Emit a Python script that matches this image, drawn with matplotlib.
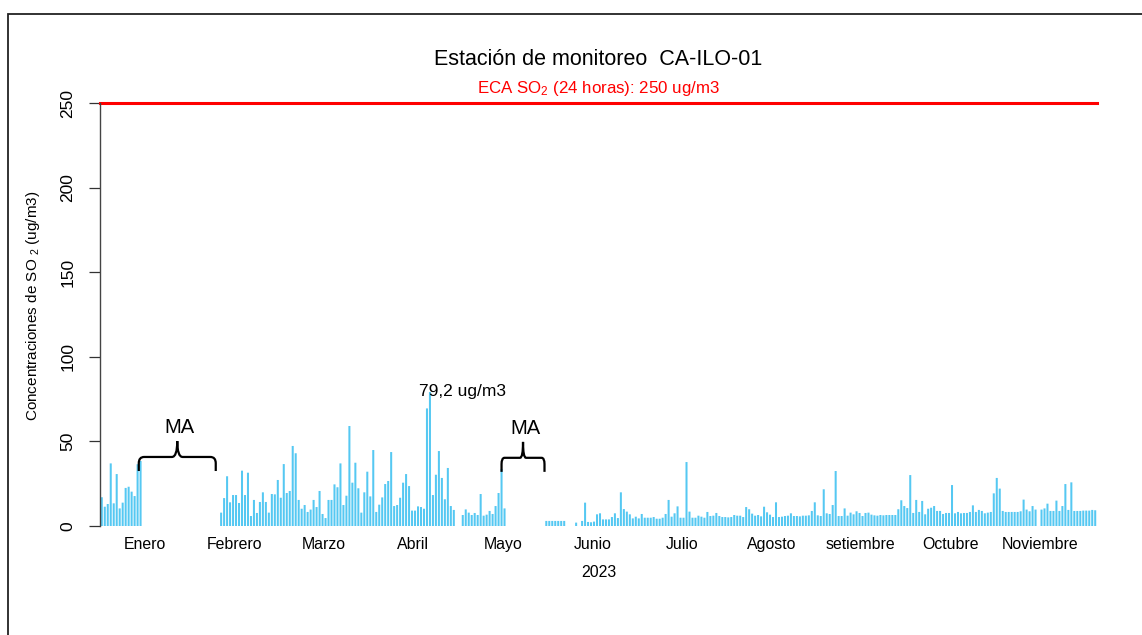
import numpy as np
import matplotlib
matplotlib.use("Agg")
import matplotlib.pyplot as plt
from matplotlib.path import Path
from matplotlib.patches import PathPatch, Rectangle

plt.rcParams["font.family"] = ["Liberation Sans", "DejaVu Sans"]
plt.rcParams["mathtext.fontset"] = "custom"
plt.rcParams["mathtext.rm"] = "Liberation Sans"
plt.rcParams["mathtext.it"] = "Liberation Sans:italic"

nan = np.nan

# Concentraciones diarias de SO2 (ug/m3), 2023, NaN = sin dato
enero = [17, 11.4, 13, 37, 13.4, 30.7, 10.4, 13.8, 22.5, 23.2, 20.3, 17.7, 36.5, 38.4] + [nan] * 17
febrero = [nan] * 9 + [7.9, 16.5, 29.4, 14, 18.3, 18.3, 13.6, 32.7, 18.3, 31.5,
                       5.9, 15.4, 7.7, 14.2, 19.9, 14.2, 7.9, 18.9, 18.7]
marzo = [27.2, 16.7, 36.6, 19.5, 20.7, 47.3, 43, 15.4, 10.2, 12.4, 8.3, 9.7, 15.4, 11.2,
         20.7, 7.1, 4.7, 15.4, 15.4, 24.6, 22.9, 37, 12.4, 17.9, 59.1, 25.6, 37.4, 22.3,
         7.9, 19.9, 32.1]
abril = [17.5, 44.9, 8.3, 12.6, 16.9, 24.8, 26.6, 43.7, 11.8, 12.4, 16.7, 25.6, 30.7,
         23.6, 9.1, 9.1, 11.6, 11.2, 10.2, 69.5, 79.2, 18.3, 30.3, 44.3, 28.4, 15.8, 34.3,
         11.8, 9.5, nan]
mayo = [nan, 6.5, 9.8, 7.9, 6.5, 7.7, 6.5, 18.9, 6.1, 6.7, 8.9, 7.1, 11.8, 19.5, 33.7,
        10.4] + [nan] * 13 + [3, 3]
junio = [3, 3, 3, 3, 3, nan, nan, nan, 2, nan, 3, 13.8, 2.4, 2.2, 2.6, 6.9, 7.5, 3.9,
         3.9, 3.9, 5.3, 7.5, 4.7, 19.9, 10, 8.5, 6.9, 4.5, 5.5, 4.5]
julio = [7.1, 4.9, 4.9, 4.9, 5.3, 4.3, 4.3, 4.9, 7.1, 15.4, 5.5, 7.5, 11.6, 4.9, 4.9,
         37.8, 8.5, 4.9, 4.9, 6.1, 5.5, 4.9, 8.3, 5.9, 6.1, 7.7, 5.9, 5.3, 5.3, 5.1, 5.3]
agosto = [6.5, 6.1, 6.1, 5.3, 11.2, 9.9, 7.3, 6.1, 6.5, 5.7, 11.4, 8.1, 6.7, 5.3, 14,
          5.3, 5.5, 5.9, 6.1, 7.5, 5.9, 5.9, 5.7, 6.1, 6.1, 6.3, 8.9, 14, 6.3, 5.9, 21.7]
setiembre = [7.5, 7.1, 12.4, 32.5, 5.9, 5.9, 10.4, 6.1, 7.9, 6.9, 8.7, 7.7, 5.9, 7.7,
             7.9, 6.7, 6.3, 6.1, 6.5, 6.3, 6.5, 6.5, 6.5, 6.5, 9.9, 15.2, 11.8, 10.6,
             30.1, 7.7]
octubre = [15.4, 8.3, 14.8, 6.9, 10.2, 10.8, 11.8, 8.9, 8.9, 7.1, 7.7, 7.7, 24.2, 7.5,
           8.3, 7.5, 7.7, 7.7, 8.3, 12.2, 8.3, 9.5, 8.9, 7.5, 7.9, 8.3, 19.3, 28.4, 22.1,
           8.9, 8.3]
noviembre = [8.3, 8.3, 8.3, 8.3, 8.7, 15.6, 9.7, 8.7, 11.8, 9.7, nan, 9.7, 10.4, 13.2,
             8.9, 8.9, 15, 8.9, 11.8, 24.8, 9.5, 25.8, 8.9, 8.9, 8.9, 9.1, 9.1, 9.1, 9.5,
             9.3]

meses = ["Enero", "Febrero", "Marzo", "Abril", "Mayo", "Junio", "Julio", "Agosto",
         "setiembre", "Octubre", "Noviembre"]
eca = 250
# tramos sin medicion (indice de dia inicial, final)
ma_tramos = [(12.4, 38.2), (134.0, 148.4)]

so2 = np.array(enero + febrero + marzo + abril + mayo + junio + julio + agosto
               + setiembre + octubre + noviembre, dtype=float)
dias = np.arange(len(so2))


def llave(ax, x0, x1, y_punta, y_barra, y_pico):
    """Llave horizontal con las puntas hacia abajo."""
    xm = (x0 + x1) / 2
    rx = (x1 - x0) * 0.07
    r = (y_barra - y_punta) * 0.45
    verts = [(x0, y_punta), (x0, y_barra - r),
             (x0, y_barra), (x0 + rx, y_barra),
             (xm - rx, y_barra),
             (xm, y_barra), (xm, y_pico),
             (xm, y_barra), (xm + rx, y_barra),
             (x1 - rx, y_barra),
             (x1, y_barra), (x1, y_barra - r),
             (x1, y_punta)]
    codes = [Path.MOVETO, Path.LINETO,
             Path.CURVE3, Path.CURVE3,
             Path.LINETO,
             Path.CURVE3, Path.CURVE3,
             Path.CURVE3, Path.CURVE3,
             Path.LINETO,
             Path.CURVE3, Path.CURVE3,
             Path.LINETO]
    ax.add_patch(PathPatch(Path(verts, codes), fill=False, lw=1.6,
                           edgecolor="black", clip_on=False))


fig = plt.figure(figsize=(11.42, 6.35), dpi=100, facecolor="white")
ax = fig.add_axes([100 / 1142, 109 / 635, 997 / 1142, 423 / 635])

ax.bar(dias, so2, width=0.68, color="#55C8F2", edgecolor="none", snap=False)

ax.set_xlim(-0.6, 333.6)
ax.set_ylim(0, 250)

ax.axhline(eca, color="red", lw=2.2, clip_on=False)
ax.text(0.5, 1.035, "ECA SO$_2$ (24 horas): 250 ug/m3", transform=ax.transAxes,
        ha="center", va="center", color="red", fontsize=12.2)
ax.text(0.5, 1.102, "Estación de monitoreo  CA-ILO-01", transform=ax.transAxes,
        ha="center", va="center", fontsize=15.5)

# valor maximo
i_max = int(np.nanargmax(so2))
ax.text(i_max + 11, so2[i_max], f"{so2[i_max]:.1f} ug/m3".replace(".", ","),
        ha="center", va="center", fontsize=12.5)

# llaves de meses sin datos
for (x0, x1), y_base in zip(ma_tramos, [32.5, 32]):
    llave(ax, x0, x1, y_base, y_base + 8.3, y_base + 17.7)
    ax.text((x0 + x1) / 2 + 0.8, y_base + 25.5, "MA", ha="center", va="center",
            fontsize=14.5)

for s in ["top", "right", "bottom"]:
    ax.spines[s].set_visible(False)
ax.spines["left"].set_bounds(0, 250)
ax.spines["left"].set_color("#444444")
ax.spines["left"].set_linewidth(1.0)
ax.set_yticks(range(0, 251, 50))
ax.tick_params(axis="y", length=7.7, width=0.9, color="#333333", pad=10, labelsize=12.5)
for lab in ax.get_yticklabels():
    lab.set_rotation(90)
    lab.set_va("center")

ax.set_xticks(np.arange(len(meses)) * 30 + 14.4)
ax.set_xticklabels(meses, fontsize=11.4)
ax.tick_params(axis="x", length=0, pad=8)
ax.set_xlabel("2023", fontsize=11.4, labelpad=9)
ax.set_ylabel("Concentraciones de SO $_2$ (ug/m3)", fontsize=11)
ax.yaxis.set_label_coords(-0.058, 0.52)

# marco exterior
fig.patches.append(Rectangle((8 / 1142, -0.05), 1.2, 1 - 14 / 635 + 0.05,
                             transform=fig.transFigure, fill=False,
                             edgecolor="#222222", lw=1.3))

fig.savefig("out.png", dpi=100, facecolor="white")
